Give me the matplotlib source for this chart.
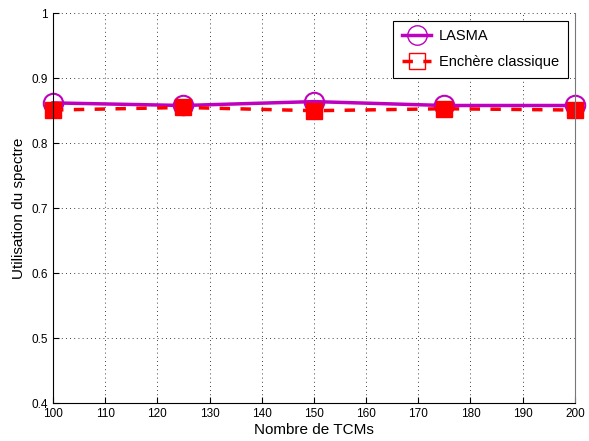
import matplotlib
matplotlib.use("Agg")
import matplotlib.pyplot as plt

plt.rcParams['font.family'] = ['Liberation Sans', 'DejaVu Sans']

# Data
tcms = [100, 125, 150, 175, 200]
lasma = [0.862, 0.858, 0.864, 0.858, 0.858]
enchere = [0.851, 0.855, 0.850, 0.853, 0.851]

fig = plt.figure(figsize=(5.89, 4.41), dpi=100)
ax = fig.add_axes([0.09, 0.086, 0.886, 0.884])

ax.plot(tcms, lasma, color='#BF00BF', lw=2.5, marker='o', ms=14,
        mfc='none', mec='#BF00BF', mew=1.5, label='LASMA', clip_on=False)
ax.plot(tcms, enchere, color='red', lw=2.5, ls=(0, (3, 3)), marker='s', ms=12,
        mfc='red', mec='red', label='Enchère classique', clip_on=False)

ax.set_xlim(100, 200)
ax.set_ylim(0.4, 1.0)
ax.set_xticks(range(100, 201, 10))
ax.set_yticks([0.4, 0.5, 0.6, 0.7, 0.8, 0.9, 1.0])
ax.set_yticklabels(['0.4', '0.5', '0.6', '0.7', '0.8', '0.9', '1'])
ax.tick_params(labelsize=8.5, direction='in', length=4)
ax.grid(True, color='black', ls=(0, (1, 4)), lw=0.6)
ax.spines['top'].set_visible(False)
ax.spines['right'].set_color('#777777')

ax.set_xlabel('Nombre de TCMs', fontsize=11, labelpad=2)
ax.set_ylabel('Utilisation du spectre', fontsize=11)

leg = ax.legend(loc='upper right', fontsize=10.5, fancybox=False, framealpha=1,
                edgecolor='black', handlelength=2.0, handletextpad=0.5,
                borderaxespad=0.5, labelspacing=0.8, borderpad=0.6)
leg.get_frame().set_linewidth(0.8)
for h in leg.legend_handles:
    h.set_markerfacecolor('none')
    h.set_markeredgewidth(1.0)

fig.savefig('out.png', dpi=100)
